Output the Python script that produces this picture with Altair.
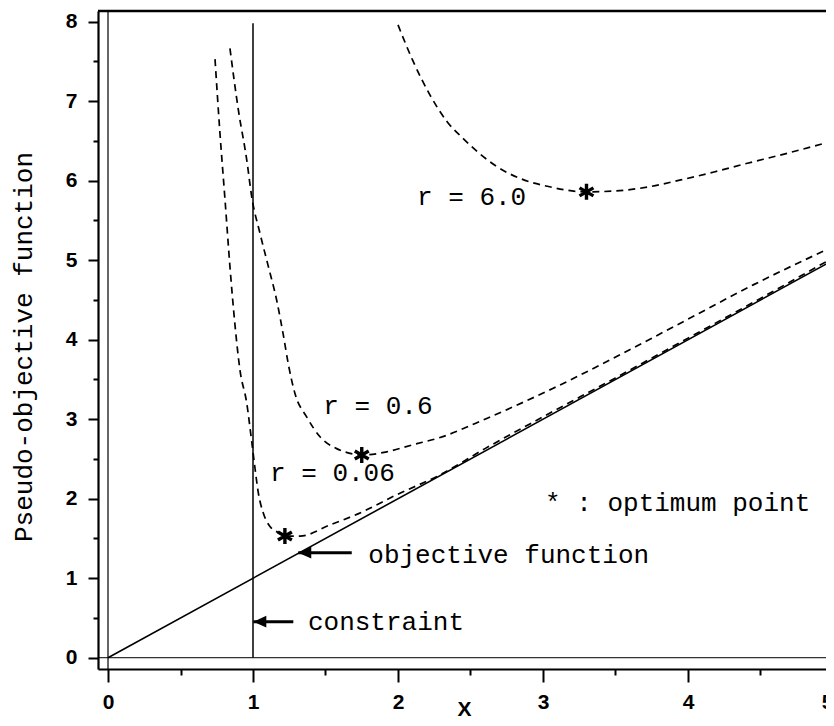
import altair as alt
import pandas as pd

# ---------------- values ----------------
obj_x = [0.0, 5.0]
obj_y = [0.0, 5.0]

con_x = [1.0, 1.0]
con_y = [0.0, 7.98]

r6_x = [2.00, 2.10, 2.22, 2.34, 2.45, 2.57, 2.68, 2.84, 3.03, 3.30, 3.49, 3.72, 3.95, 4.18, 4.41, 4.63, 4.98]
r6_y = [7.96, 7.52, 7.08, 6.74, 6.53, 6.33, 6.18, 6.03, 5.93, 5.86, 5.87, 5.92, 6.01, 6.11, 6.22, 6.32, 6.49]

r06_x = [0.841, 0.899, 0.957, 0.991, 1.048, 1.106, 1.163, 1.209, 1.245, 1.290, 1.370, 1.462, 1.577,
         1.761, 1.922, 2.105, 2.290, 2.612, 3.071, 3.531, 3.991, 4.450, 5.000]
r06_y = [7.665, 6.89, 6.26, 5.80, 5.34, 4.92, 4.50, 4.06, 3.68, 3.32, 3.03, 2.78, 2.63,
         2.55, 2.59, 2.68, 2.77, 3.01, 3.39, 3.81, 4.25, 4.69, 5.17]

r006_x = [0.738, 0.772, 0.807, 0.841, 0.876, 0.910, 0.957, 0.991, 1.014, 1.037, 1.071, 1.117, 1.186,
          1.221, 1.324, 1.531, 1.761, 1.991, 2.290, 2.600, 3.000, 3.500, 4.000, 4.500, 5.000]
r006_y = [7.53, 6.60, 5.76, 4.92, 4.18, 3.62, 3.20, 2.72, 2.38, 2.07, 1.82, 1.65, 1.565,
          1.53, 1.53, 1.67, 1.84, 2.05, 2.30, 2.63, 3.03, 3.52, 4.02, 4.52, 5.03]

opt_x = [3.30, 1.75, 1.22]
opt_y = [5.86, 2.55, 1.53]

label_text = ["r = 6.0", "r = 0.6", "r = 0.06", "* : optimum point", "objective function", "constraint"]
label_x = [2.131, 1.485, 1.117, 3.014, 1.795, 1.379]
label_y = [5.80, 3.16, 2.32, 1.95, 1.29, 0.453]

arrow_tip_x = [1.312, 1.002]
arrow_end_x = [1.681, 1.278]
arrow_y = [1.321, 0.453]

x_ticks = [i * 0.5 for i in range(11)]
y_ticks = [i * 0.5 for i in range(17)]

# ---------------- tables ----------------
curves = pd.concat([
    pd.DataFrame({"x": r6_x, "y": r6_y, "r": "6.0"}),
    pd.DataFrame({"x": r06_x, "y": r06_y, "r": "0.6"}),
    pd.DataFrame({"x": r006_x, "y": r006_y, "r": "0.06"}),
], ignore_index=True)
curves["order"] = range(len(curves))

obj_df = pd.DataFrame({"x": obj_x, "y": obj_y})
con_df = pd.DataFrame({"x": con_x, "y": con_y})
opt_df = pd.DataFrame({"x": opt_x, "y": opt_y})
lab_df = pd.DataFrame({"x": label_x, "y": label_y, "t": label_text})
arr_df = pd.DataFrame({"x": arrow_tip_x, "x2": arrow_end_x, "y": arrow_y})

W, H = 736, 658
XDOM = [-0.069, 5.007]
YDOM = [-0.142, 8.135]

xs = alt.Scale(domain=XDOM, nice=False, zero=False)
ys = alt.Scale(domain=YDOM, nice=False, zero=False)

x_axis = alt.Axis(
    values=x_ticks,
    labelExpr="datum.value % 1 === 0 ? '' + datum.value : ''",
    tickSize={"condition": {"test": "datum.value % 1 === 0", "value": 13}, "value": 6},
    labelPadding=9,
    labelFlush=3,
    title="X",
    titleX=366, titleY=46, titleBaseline="alphabetic", titleAlign="center",
    titleFont="Liberation Sans", titleFontSize=21, titleFontWeight="bold",
    grid=False, labelOverlap=False,
)
y_axis = alt.Axis(
    values=y_ticks,
    labelExpr="datum.value % 1 === 0 ? '' + datum.value : ''",
    tickSize={"condition": {"test": "datum.value % 1 === 0", "value": 10}, "value": 5},
    labelPadding=11,
    title="Pseudo-objective function",
    titleAngle=270, titleX=-67, titleY=335.5, titleAlign="center", titleBaseline="alphabetic",
    titleFont="Liberation Mono", titleFontSize=26, titleFontWeight="normal",
    grid=False, labelFlush=False, labelOverlap=False,
)

base_x = alt.X("x:Q", scale=xs, axis=x_axis)
base_y = alt.Y("y:Q", scale=ys, axis=y_axis)

zero_v = alt.Chart().mark_rule(color="black", strokeWidth=1.2).encode(x=alt.datum(0, scale=xs))
zero_h = alt.Chart().mark_rule(color="black", strokeWidth=1.0).encode(y=alt.datum(0, scale=ys))
top_frame = alt.Chart().mark_rule(color="black", strokeWidth=2.4).encode(
    y=alt.datum(YDOM[1], scale=ys))

obj_line = alt.Chart(obj_df).mark_line(color="black", strokeWidth=1.6).encode(x=base_x, y=base_y)
con_line = alt.Chart(con_df).mark_line(color="black", strokeWidth=1.5).encode(x="x:Q", y="y:Q")

curve_lines = alt.Chart(curves).mark_line(
    color="black", strokeWidth=1.7, strokeDash=[7, 5], interpolate="monotone"
).encode(x="x:Q", y="y:Q", detail="r:N", order="order:Q")

star_path = "M0,-1L0,1M-0.87,-0.5L0.87,0.5M-0.87,0.5L0.87,-0.5"
stars = alt.Chart(opt_df).mark_point(
    shape=star_path, size=256, strokeWidth=3.4, color="black", filled=False, opacity=1
).encode(x="x:Q", y="y:Q")

shafts = alt.Chart(arr_df).mark_rule(color="black", strokeWidth=3).encode(
    x="x:Q", x2="x2:Q", y="y:Q")
heads = alt.Chart(arr_df).mark_point(
    shape="M0,0L2,-0.9L2,0.9Z", size=169, filled=True, color="black", opacity=1, strokeWidth=0
).encode(x="x:Q", y="y:Q")

labels = alt.Chart(lab_df).mark_text(
    align="left", baseline="middle", font="Liberation Mono", fontSize=26, color="black"
).encode(x="x:Q", y="y:Q", text="t:N")

chart = alt.layer(
    obj_line, zero_v, zero_h, top_frame, con_line, curve_lines, stars, shafts, heads, labels
).properties(
    width=W, height=H,
    autosize=alt.AutoSizeParams(type="none"),
    padding={"left": 90, "top": 3, "right": -8, "bottom": 49},
    background="white",
).configure_view(stroke=None).configure_axis(
    domainColor="black", domainWidth=2.2, tickColor="black", tickWidth=2,
    labelFont="Liberation Sans", labelFontSize=21, labelFontWeight="bold", labelColor="black",
    titleColor="black",
)

chart.save("out.html", embed_options={"renderer": "svg", "actions": False})
